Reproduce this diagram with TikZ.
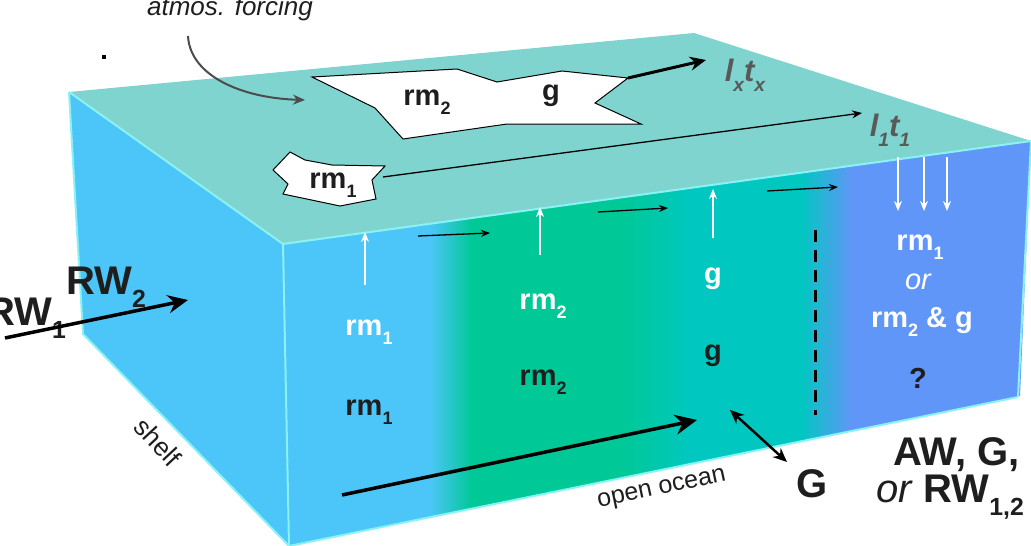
\documentclass[tikz,border=0pt]{standalone}
\usepackage{fontspec}
\setmainfont{Liberation Sans}
\usetikzlibrary{arrows.meta}
\definecolor{topc}{HTML}{80D4D0}
\definecolor{lb}{HTML}{4CC6F8}
\definecolor{gr}{HTML}{00C896}
\definecolor{tl}{HTML}{00C8C0}
\definecolor{bl}{HTML}{6096F8}
\definecolor{edge}{HTML}{8AF2F4}
\definecolor{dk}{HTML}{1E1E1E}
\newcommand{\sbx}[1]{\raisebox{-0.32em}{\scalebox{0.62}{#1}}}
\tikzset{
  lbl/.style={font=\bfseries\fontsize{29}{32}\selectfont,inner sep=0pt},
  wl/.style={lbl,text=white},
  dl/.style={lbl,text=dk},
  big/.style={font=\bfseries\fontsize{40}{44}\selectfont,inner sep=0pt,text=dk},
  warr/.style={white,line width=2pt,-{Stealth[length=10pt,width=8pt]}},
  karr/.style={black,line width=1.3pt,-{Stealth[length=9pt,width=7pt]}},
  thick arr/.style={black,line width=3.5pt,-{Stealth[length=22pt,width=20pt]}},
  patch/.style={fill=white,draw=black,line width=1pt,line join=miter},
}
\begin{document}
\begin{tikzpicture}[x=1pt,y=-1pt]
\useasboundingbox (0,0) rectangle (1031,546);
% faces
\coordinate (A) at (69,92); \coordinate (B) at (694,33); \coordinate (C) at (1031,141);
\coordinate (D) at (283,244); \coordinate (E) at (289,546); \coordinate (F) at (1012,398);
\coordinate (H) at (83,334);
\fill[topc] (A) -- (B) -- (C) -- (D) -- cycle;
\fill[lb] (A) -- (D) -- (E) -- (H) -- cycle;
\begin{scope}
\clip (D) -- (C) -- (1031,141) -- (1020,396) -- (E) -- cycle;
\fill[lb] (280,100) rectangle (432,550);
\shade[left color=lb,right color=gr] (430,100) rectangle (472,550);
\fill[gr] (470,100) rectangle (622,550);
\shade[left color=gr,right color=tl] (620,100) rectangle (692,550);
\fill[tl] (690,100) rectangle (802,550);
\shade[left color=tl,right color=bl] (800,100) rectangle (852,550);
\fill[bl] (850,100) rectangle (1035,550);
\end{scope}
\draw[edge,line width=2pt] (A) -- (D) -- (C);
\draw[edge,line width=2pt] (D) -- (E) -- (1018,397);
\draw[edge,line width=2pt] (A) -- (H) -- (E);
\draw[edge,line width=2pt] (C) -- (1018,397);
% top patches
\draw[patch] (312,77) -- (457,69) -- (497,82) -- (562,71) -- (628,78) -- (595,103) -- (641,124) -- (507,124) -- (403,139) -- (375,108) -- cycle;
\draw[patch] (290,152) -- (305,160) -- (332,165) -- (385,166) -- (372,180) -- (376,199) -- (340,206) -- (283,194) -- (288,184) -- (273,170) -- cycle;
\node[dl] (trm2) at (427,102) {rm\sbx{2}};
\node[dl] (tg) at (551,96) {g};
\node[dl] (trm1) at (333,185) {rm\sbx{1}};
\coordinate (bigR) at (628,78);
\node[font=\bfseries\itshape\fontsize{31}{34}\selectfont,text=black!65,inner sep=0pt] (lx) at (745,75) {l\sbx{x}t\sbx{x}};
\node[font=\bfseries\itshape\fontsize{31}{34}\selectfont,text=black!65,inner sep=0pt] (l1) at (890,130) {l\sbx{1}t\sbx{1}};
\draw[black,line width=3pt,-{Stealth[length=16pt,width=14pt]}] (bigR) -- (706,60);
\coordinate (smR) at (383,177);
\draw[black,line width=1.3pt,-{Stealth[length=10pt,width=8pt]}] (smR) -- (862,113);
% atmos forcing
\node[font=\itshape\fontsize{26}{28}\selectfont,text=dk,inner sep=0pt] (atm) at (230,9) {atmos. forcing};
\coordinate (atmE) at (305,100);
\draw[black!70,line width=2pt,-{Stealth[length=12pt,width=10pt]}] (188,36) .. controls (190,75) and (240,98) .. (atmE);
\node[fill=black,inner sep=1.6pt] (dot) at (104,57) {};
% front arrows
\draw[warr] (365,285) -- (365,232);
\draw[warr] (540,255) -- (540,207);
\draw[warr] (713,238) -- (713,189);
\foreach \x in {898,924,947} \draw[warr] (\x,157) -- (\x,211);
\draw[karr] (418,236) -- (490,233);
\draw[karr] (598,212) -- (668,208);
\draw[karr] (767,191) -- (838,187);
\draw[black,line width=3pt,dash pattern=on 12pt off 8pt] (815,230) -- (815,415);
% labels in box
\node[wl] (w1) at (369,332) {rm\sbx{1}};
\node[wl] (w2) at (543,306) {rm\sbx{2}};
\node[wl] (w3) at (713,279) {g};
\node[wl] (w4) at (920,247) {rm\sbx{1}};
\node[wl,font=\itshape\fontsize{29}{32}\selectfont] (w5) at (918,282) {or};
\node[wl] (w6) at (922,322) {rm\sbx{2} \& g};
\node[dl] (d1) at (369,412) {rm\sbx{1}};
\node[dl] (d2) at (543,382) {rm\sbx{2}};
\node[dl] (d3) at (713,356) {g};
\node[dl] (d4) at (918,378) {?};
% bottom
\coordinate (ba1) at (342,495); \coordinate (ba2) at (697,420);
\draw[thick arr] (ba1) -- (ba2);
\node[big] (G) at (812,484) {G};
\coordinate (dA) at (730,410);
\draw[black,line width=2.5pt,{Stealth[length=14pt,width=12pt]}-{Stealth[length=14pt,width=12pt]}] (dA) -- (787,462);
\node[big,anchor=east] (aw) at (1020,455) {AW, G,};
\node[big,anchor=east] (rw) at (1024,497) {\mdseries\itshape or \bfseries\upshape RW\sbx{1,2}};
\node[font=\fontsize{25}{28}\selectfont,text=dk,rotate=12,inner sep=0pt] (oo) at (662,490) {open ocean};
\node[font=\fontsize{26}{28}\selectfont,text=dk,rotate=-47,inner sep=0pt] (sh) at (158,442) {shelf};
% RW
\node[big,anchor=west] (rw1) at (-14,318) {RW\sbx{1}};
\node[big,anchor=west] (rw2) at (66,287) {RW\sbx{2}};
\coordinate (rs) at (5,338);
\draw[thick arr,-{Stealth[length=20pt,width=18pt]}] (rs) -- (188,300);
\end{tikzpicture}
\end{document}
